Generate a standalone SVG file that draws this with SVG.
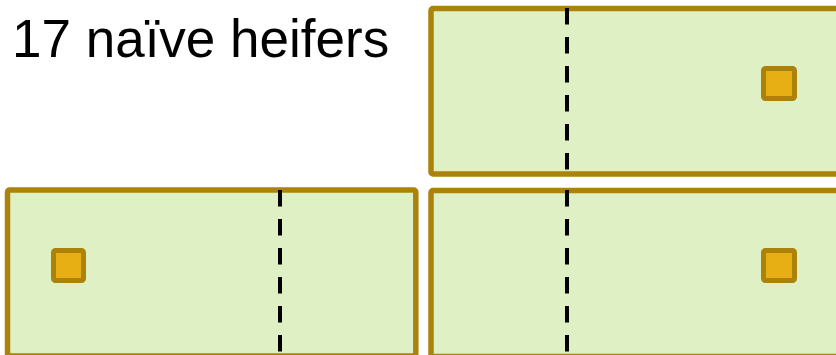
<svg xmlns="http://www.w3.org/2000/svg" width="836" height="355" viewBox="0 0 836 355">
<style>
.pen{fill:#DFF1C4;stroke:#AB820A;stroke-width:5.5;stroke-linejoin:round}
.box{fill:#E8AF14;stroke:#AB820A;stroke-width:5;stroke-linejoin:round}
.div{stroke:#000;stroke-width:4;stroke-dasharray:16.5 12.5;fill:none}
.lbl{font-family:"Liberation Sans",Arial,sans-serif;font-size:53px;fill:#000}
</style>
<rect width="836" height="355" fill="#fff"/>
<text class="lbl" x="12" y="57">17 naïve heifers</text>
<g id="pen-top-right">
<rect class="pen" x="431" y="8.5" width="420" height="165.5" rx="2"/>
<line class="div" x1="567" y1="8" x2="567" y2="174"/>
<rect class="box" x="763.5" y="68.5" width="31" height="30" rx="2"/>
</g>
<g id="pen-bottom-left">
<rect class="pen" x="7.5" y="190" width="408.3" height="166" rx="2"/>
<line class="div" x1="280" y1="190" x2="280" y2="356"/>
<rect class="box" x="53.5" y="250.5" width="30" height="30" rx="2"/>
</g>
<g id="pen-bottom-right">
<rect class="pen" x="431" y="190.5" width="420" height="166" rx="2"/>
<line class="div" x1="567" y1="190" x2="567" y2="356"/>
<rect class="box" x="763.5" y="250.5" width="31" height="30" rx="2"/>
</g>
<g id="connectors"/>
</svg>
